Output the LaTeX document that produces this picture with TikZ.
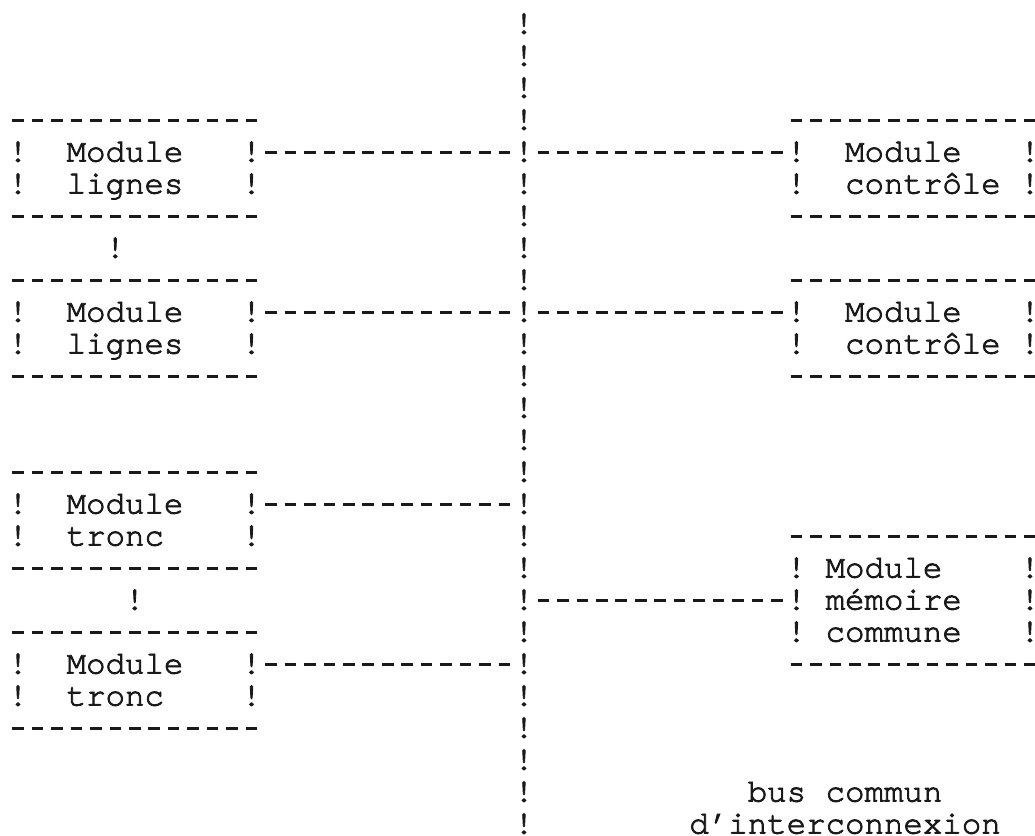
\documentclass[tikz,border=0pt]{standalone}
\usepackage{fontspec}
\newfontfamily\typew{texgyrecursor-regular.otf}[FakeBold=2.6]
\definecolor{ink}{gray}{0.1}
\tikzset{
  ch/.style={anchor=base west, inner sep=0pt, outer sep=0pt, text=ink,
    font=\typew\fontsize{32.43}{38}\selectfont},
  dl/.style={draw=ink, line width=2.1pt, line cap=butt,
    dash pattern=on 11.6pt off 7.86pt, dash phase=15.53pt},
}
% left box: name, top row, second word
\newcommand\leftbox[3]{%
  \draw[dl,yshift=9pt] (0,#2) -- (13,#2);
  \node[ch] (#1la) at (0,{#2+1}) {!};
  \node[ch] (#1wa) at (3,{#2+1}) {Module};
  \node[ch] (#1ra) at (12,{#2+1}) {!};
  \node[ch] (#1lb) at (0,{#2+2}) {!};
  \node[ch] (#1wb) at (3,{#2+2}) {#3};
  \node[ch] (#1rb) at (12,{#2+2}) {!};
  \draw[dl,yshift=9pt] (0,{#2+3}) -- (13,{#2+3});
}
% right box: name, top row, second word
\newcommand\rightbox[3]{%
  \draw[dl,yshift=9pt] (40,#2) -- (53,#2);
  \node[ch] (#1la) at (40,{#2+1}) {!};
  \node[ch] (#1wa) at (43,{#2+1}) {Module};
  \node[ch] (#1ra) at (52,{#2+1}) {!};
  \node[ch] (#1lb) at (40,{#2+2}) {!};
  \node[ch] (#1wb) at (43,{#2+2}) {#3};
  \node[ch] (#1rb) at (52,{#2+2}) {!};
  \draw[dl,yshift=9pt] (40,{#2+3}) -- (53,{#2+3});
}
\begin{document}
\begin{tikzpicture}[x=19.46pt,y=-32pt]
\useasboundingbox[fill=white] (-0.425,-4.047) rectangle (52.76,22.047);

% common bus
\foreach \r in {-3,...,22} \node[ch] (bus\r) at (26,\r) {!};

% left modules
\leftbox{lgA}{0}{lignes}
\node[ch] (lgAlink) at (5,4) {!};
\leftbox{lgB}{5}{lignes}
\leftbox{trA}{11}{tronc}
\node[ch] (trAlink) at (6,15) {!};
\leftbox{trB}{16}{tronc}

% right modules
\rightbox{ctA}{0}{contrôle}
\rightbox{ctB}{5}{contrôle}

% shared memory module
\draw[dl,yshift=9pt] (40,13) -- (53,13);
\node[ch] (memla) at (40,14) {!};
\node[ch] (memwa) at (42,14) {Module};
\node[ch] (memra) at (52,14) {!};
\node[ch] (memlb) at (40,15) {!};
\node[ch] (memwb) at (42,15) {mémoire};
\node[ch] (memrb) at (52,15) {!};
\node[ch] (memlc) at (40,16) {!};
\node[ch] (memwc) at (42,16) {commune};
\node[ch] (memrc) at (52,16) {!};
\draw[dl,yshift=9pt] (40,17) -- (53,17);

% connectors to the bus
\draw[dl] ([yshift=9pt]lgAra.base east) -- ([yshift=9pt]bus1.base west);
\draw[dl] ([yshift=9pt]bus1.base east) -- ([yshift=9pt]ctAla.base west);
\draw[dl] ([yshift=9pt]lgBra.base east) -- ([yshift=9pt]bus6.base west);
\draw[dl] ([yshift=9pt]bus6.base east) -- ([yshift=9pt]ctBla.base west);
\draw[dl] ([yshift=9pt]trAra.base east) -- ([yshift=9pt]bus12.base west);
\draw[dl] ([yshift=9pt]bus15.base east) -- ([yshift=9pt]memlb.base west);
\draw[dl] ([yshift=9pt]trBra.base east) -- ([yshift=9pt]bus17.base west);

% label
\node[ch] (lab1a) at (38,21) {bus};
\node[ch] (lab1b) at (42,21) {commun};
\node[ch] (lab2) at (35,22) {d’interconnexion};
\end{tikzpicture}
\end{document}
